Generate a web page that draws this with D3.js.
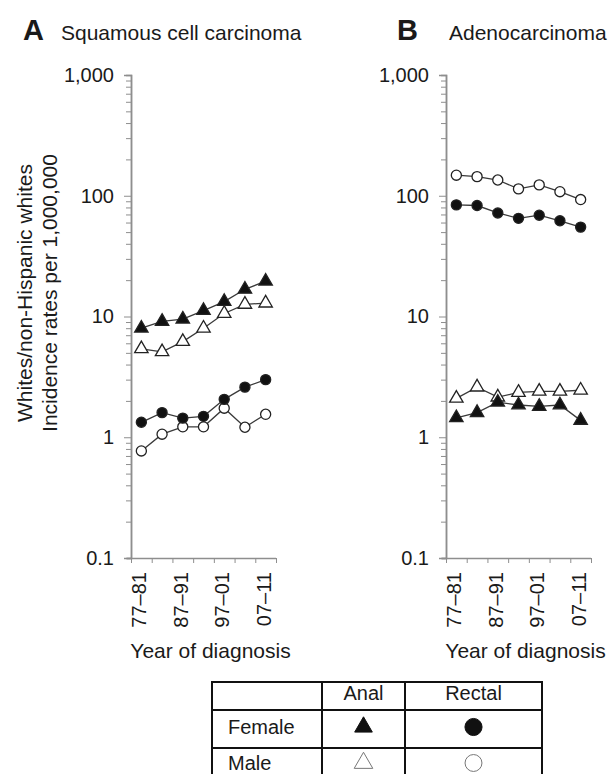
<!DOCTYPE html>
<html>
<head>
<meta charset="utf-8">
<script src="https://cdn.jsdelivr.net/npm/d3@7"></script>
<style>
  body { margin: 0; background: #fff; }
  svg text { font-family: "Liberation Sans", Arial, sans-serif; fill: #1a1a1a; }
</style>
</head>
<body>
<svg id="chart" width="610" height="774"></svg>
<script>
// ---- data ----
const periods = ['77–81', '82–86', '87–91', '92–96', '97–01', '02–06', '07–11'];
const shownPeriods = ['77–81', '87–91', '97–01', '07–11'];
const majorTicks = [0.1, 1, 10, 100, 1000];

// A: squamous cell carcinoma
const scFemaleAnal   = [8.0, 9.1, 9.5, 11.2, 13.3, 16.8, 19.6];
const scMaleAnal     = [5.4, 5.1, 6.2, 8.0, 10.6, 12.6, 12.9];
const scFemaleRectal = [1.33, 1.6, 1.44, 1.49, 2.06, 2.6, 3.0];
const scMaleRectal   = [0.77, 1.06, 1.22, 1.22, 1.74, 1.21, 1.55];

// B: adenocarcinoma
const adFemaleAnal   = [1.45, 1.6, 1.95, 1.85, 1.8, 1.85, 1.38];
const adMaleAnal     = [2.1, 2.6, 2.15, 2.35, 2.4, 2.4, 2.45];
const adFemaleRectal = [84, 83, 72, 65, 69, 62, 55];
const adMaleRectal   = [148, 144, 135, 114, 123, 108, 93];

const legendRows = ['Female', 'Male'];
const legendCols = ['Anal', 'Rectal'];

const svg = d3.select('#chart');
const axisGrey = '#8e8e8e';
const lineGrey = '#3a3a3a';

const y = d3.scaleLog().domain([0.1, 1000]).range([558, 75]);
const minorTicks = d3.range(-1, 3).flatMap(e => d3.range(2, 10).map(m => m * Math.pow(10, e)));

const triangle = (size) => d3.symbol(d3.symbolTriangle, size)();
const circle   = (size) => d3.symbol(d3.symbolCircle, size)();

function drawPanel(p) {
  const x = d3.scaleBand().domain(periods).range([p.x0, p.x1]);
  const xi = d3.scaleLinear().domain([0, periods.length]).range([p.x0, p.x1]);
  const g = svg.append('g');

  // y axis: minor then major ticks
  const minorAx = g.append('g').attr('transform', `translate(${p.x0},0)`)
    .call(d3.axisLeft(y).tickValues(minorTicks).tickSize(5).tickFormat(''));
  const majorAx = g.append('g').attr('transform', `translate(${p.x0},0)`)
    .call(d3.axisLeft(y).tickValues(majorTicks).tickSize(7).tickPadding(10).tickFormat(d3.format(',')));
  [minorAx, majorAx].forEach(a => {
    a.selectAll('path').attr('stroke', axisGrey).attr('stroke-width', 1.5);
    a.selectAll('line').attr('stroke', axisGrey).attr('stroke-width', 1);
  });
  majorAx.selectAll('text').attr('font-size', 20).attr('fill', '#1a1a1a');

  // x axis: boundary ticks + rotated labels
  const bAx = g.append('g').attr('transform', `translate(0,${y(0.1)})`)
    .call(d3.axisBottom(xi).tickValues(d3.range(periods.length + 1)).tickSize(5).tickFormat(''));
  bAx.selectAll('path').attr('stroke', axisGrey).attr('stroke-width', 1.5)
    .attr('d', `M${p.x0 - 4},0.5H${p.x1}`);
  bAx.selectAll('line').attr('stroke', axisGrey).attr('stroke-width', 1);

  const lAx = g.append('g').attr('transform', `translate(-2,${y(0.1)})`)
    .call(d3.axisBottom(x).tickValues(shownPeriods).tickSize(0).tickPadding(0));
  lAx.select('.domain').remove();
  lAx.selectAll('text')
    .attr('font-size', 20).attr('fill', '#1a1a1a')
    .attr('transform', 'rotate(-90)')
    .attr('text-anchor', 'end').attr('dy', '0.35em').attr('x', -14).attr('y', 0);

  g.append('text').attr('x', (p.x0 + p.x1) / 2 + 7).attr('y', 658)
    .attr('text-anchor', 'middle').attr('font-size', 21).text('Year of diagnosis');

  // panel letter and title
  g.append('text').attr('x', p.letterX).attr('y', 40)
    .attr('font-size', 29).attr('font-weight', 'bold').text(p.letter);
  g.append('text').attr('x', p.titleX).attr('y', 40)
    .attr('font-size', 21).text(p.title);

  // series
  const cx = (i) => x(periods[i]) + x.bandwidth() / 2;
  const line = d3.line().x((d, i) => cx(i)).y(d => y(d));
  p.series.forEach(s => {
    g.append('path').datum(s.values)
      .attr('d', line).attr('fill', 'none')
      .attr('stroke', lineGrey).attr('stroke-width', 1.3);
  });
  p.series.forEach(s => {
    g.selectAll(null).data(s.values).join('path')
      .attr('transform', (d, i) => `translate(${cx(i)},${y(d)})`)
      .attr('d', s.shape === 'tri' ? triangle(78) : circle(80))
      .attr('fill', s.filled ? '#111' : '#fff')
      .attr('stroke', '#222').attr('stroke-width', 1.3);
  });
}

drawPanel({
  x0: 131, x1: 276, letter: 'A', letterX: 23, title: 'Squamous cell carcinoma', titleX: 61,
  series: [
    { values: scMaleRectal, shape: 'circle', filled: false },
    { values: scFemaleRectal, shape: 'circle', filled: true },
    { values: scMaleAnal, shape: 'tri', filled: false },
    { values: scFemaleAnal, shape: 'tri', filled: true },
  ],
});

drawPanel({
  x0: 446, x1: 591, letter: 'B', letterX: 397, title: 'Adenocarcinoma', titleX: 449,
  series: [
    { values: adMaleRectal, shape: 'circle', filled: false },
    { values: adFemaleRectal, shape: 'circle', filled: true },
    { values: adMaleAnal, shape: 'tri', filled: false },
    { values: adFemaleAnal, shape: 'tri', filled: true },
  ],
});

// shared y title
const yTitle = svg.append('g').attr('transform', 'translate(0,293) rotate(-90)');
yTitle.append('text').attr('x', 0).attr('y', 32).attr('text-anchor', 'middle')
  .attr('font-size', 21).text('Whites/non-Hispanic whites');
yTitle.append('text').attr('x', 0).attr('y', 57).attr('text-anchor', 'middle')
  .attr('font-size', 21).text('Incidence rates per 1,000,000');

// ---- legend table ----
const colX = [212, 322, 405, 542];
const rowY = [682, 710, 748, 786];
const lg = svg.append('g');
colX.forEach(cxv => lg.append('line').attr('x1', cxv).attr('x2', cxv)
  .attr('y1', rowY[0]).attr('y2', rowY[3]).attr('stroke', '#111').attr('stroke-width', 2));
rowY.forEach(ry => lg.append('line').attr('x1', colX[0] - 1).attr('x2', colX[3] + 1)
  .attr('y1', ry).attr('y2', ry).attr('stroke', '#111').attr('stroke-width', 2));

legendCols.forEach((c, j) => {
  lg.append('text').attr('x', (colX[j + 1] + colX[j + 2]) / 2).attr('y', 700)
    .attr('text-anchor', 'middle').attr('font-size', 20).text(c);
});
legendRows.forEach((r, i) => {
  const cy = i === 0 ? 727 : 763;
  lg.append('text').attr('x', 228).attr('y', cy + 7).attr('font-size', 20).text(r);
  legendCols.forEach((c, j) => {
    const mx = (colX[j + 1] + colX[j + 2]) / 2;
    const filled = r === 'Female';
    lg.append('path')
      .attr('transform', `translate(${mx},${cy})`)
      .attr('d', c === 'Anal' ? triangle(filled ? 135 : 150) : circle(filled ? 230 : 225))
      .attr('fill', filled ? '#111' : '#fff')
      .attr('stroke', filled ? '#111' : '#777').attr('stroke-width', 1);
  });
});
</script>
</body>
</html>
